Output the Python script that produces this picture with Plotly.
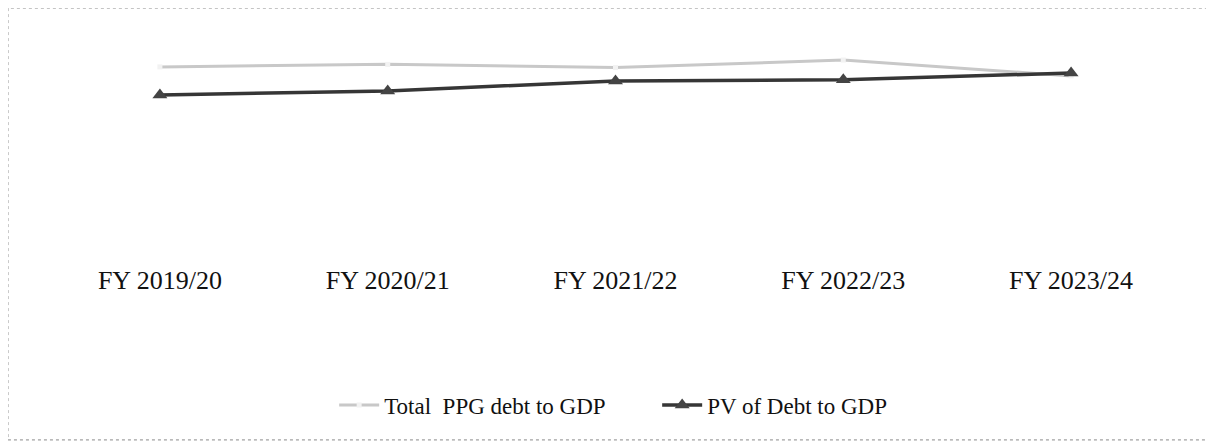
import plotly.graph_objects as go

categories = ["FY 2019/20", "FY 2020/21", "FY 2021/22", "FY 2022/23", "FY 2023/24"]
ppg_debt = [54.2, 54.9, 54.0, 56.1, 51.7]
pv_debt = [46.4, 47.5, 50.3, 50.6, 52.5]

xpos = list(range(len(categories)))

fig = go.Figure()
fig.add_trace(go.Scatter(
    x=xpos, y=ppg_debt, mode="lines+markers", name="Total  PPG debt to GDP",
    line=dict(color="#c8c8c8", width=3),
    marker=dict(symbol="square", size=5, color="#f2f2f2"),
))
fig.add_trace(go.Scatter(
    x=xpos, y=pv_debt, mode="lines+markers", name="PV of Debt to GDP",
    line=dict(color="#363636", width=3.5),
    marker=dict(symbol="triangle-up", size=13, color="#444444"),
))

# scanned frame around the chart
fig.add_shape(type="rect", xref="paper", yref="paper",
              x0=-0.0334, x1=1.0228, y0=-0.706, y1=1.0079,
              line=dict(color="#8a8a8a", width=1, dash="dot"))

fig.update_layout(
    width=1206, height=438,
    margin=dict(l=38, r=29, t=2, b=184),
    paper_bgcolor="white", plot_bgcolor="white",
    font=dict(family="Liberation Serif, Times New Roman, serif", color="#111111"),
    showlegend=True,
    legend=dict(orientation="h", xanchor="left", x=0.253,
                yref="container", yanchor="middle", y=0.0936,
                font=dict(size=23, family="Liberation Serif, Times New Roman, serif"),
                itemwidth=40, entrywidth=268, entrywidthmode="pixels"),
    xaxis=dict(range=[-0.5, 4.5], tickmode="array", tickvals=xpos, ticktext=categories,
               showgrid=False, zeroline=False, showline=False, ticks="",
               tickfont=dict(size=26, family="Liberation Serif, Times New Roman, serif")),
    yaxis=dict(range=[0, 70], showgrid=False, zeroline=False, showline=False,
               showticklabels=False, ticks=""),
)

fig.write_html("out.html")
